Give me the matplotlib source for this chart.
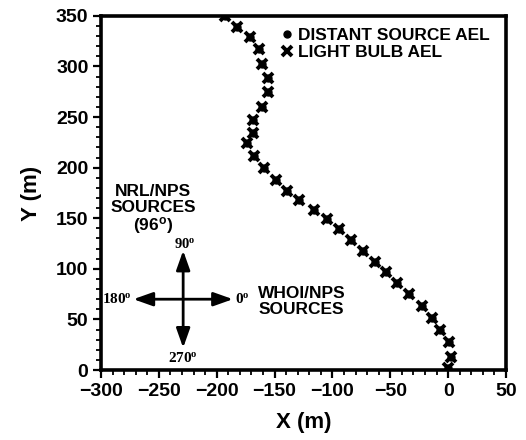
#!/usr/bin/env python3
"""AEL track positions in the horizontal plane, with source bearings."""

import matplotlib.pyplot as plt
from matplotlib.ticker import MultipleLocator

plt.rcParams.update({
    "font.family": ["Liberation Sans", "DejaVu Sans"],
    "font.weight": "bold",
    "mathtext.default": "regular",
})

# track positions (m)
track_x = [-192.8, -182.2, -171.2, -163.2, -160.6, -155.9, -155.4, -161.1,
           -168.4, -169.0, -174.1, -167.5, -158.9, -149.0, -139.5, -128.6,
           -116.2, -105.1, -94.3, -84.2, -73.8, -63.2, -53.7, -44.5, -33.8,
           -22.8, -13.7, -7.0, 1.0, 2.2, 0.2]
track_y = [350.0, 339.0, 329.0, 317.5, 302.7, 288.8, 275.0, 260.0, 247.0,
           234.0, 224.5, 211.7, 199.8, 188.0, 177.0, 168.0, 158.0, 149.0,
           139.5, 128.6, 117.7, 106.8, 97.0, 86.0, 75.0, 63.0, 51.4, 39.6,
           27.7, 12.9, 2.0]

distant_x = track_x
distant_y = track_y
bulb_x = track_x
bulb_y = track_y

series_labels = ["DISTANT SOURCE AEL", "LIGHT BULB AEL"]

fig = plt.figure(figsize=(5.26, 4.40), dpi=100)
ax = fig.add_axes([0.192, 0.159, 0.77, 0.805])

ax.plot(distant_x, distant_y, "o", color="black", markersize=5,
        linestyle="none", label=series_labels[0])
ax.plot(bulb_x, bulb_y, "x", color="black", markersize=7.5,
        markeredgewidth=2.8, linestyle="none", label=series_labels[1])

ax.set_xlim(-300, 50)
ax.set_ylim(0, 350)
ax.xaxis.set_major_locator(MultipleLocator(50))
ax.xaxis.set_minor_locator(MultipleLocator(10))
ax.yaxis.set_major_locator(MultipleLocator(50))
ax.yaxis.set_minor_locator(MultipleLocator(10))
ax.tick_params(which="major", direction="out", length=6, width=1.6,
               labelsize=14, pad=3)
ax.tick_params(which="minor", direction="out", length=3.5, width=1.3)
for lab in ax.get_xticklabels() + ax.get_yticklabels():
    lab.set_fontweight("bold")
for side in ax.spines.values():
    side.set_linewidth(2.6)

ax.set_xlabel("X (m)", fontsize=16, fontweight="bold", labelpad=9)
ax.set_ylabel("Y (m)", fontsize=16, fontweight="bold", labelpad=10)

leg = ax.legend(loc="upper right", bbox_to_anchor=(0.99, 1.0), frameon=False,
                fontsize=12.5, handlelength=0.6, handletextpad=0.35,
                labelspacing=0.1, borderaxespad=0.3)
for t in leg.get_texts():
    t.set_fontweight("bold")

# bearing compass
cx, cy = -229, 70
arrow_kw = dict(arrowstyle="-|>,head_length=0.9,head_width=0.32",
                color="black", lw=2.0, mutation_scale=13,
                shrinkA=0, shrinkB=0)
ax.annotate("", xy=(cx + 43, cy), xytext=(cx, cy), arrowprops=arrow_kw)
ax.annotate("", xy=(cx - 43, cy), xytext=(cx, cy), arrowprops=arrow_kw)
ax.annotate("", xy=(cx, cy + 48), xytext=(cx, cy), arrowprops=arrow_kw)
ax.annotate("", xy=(cx, cy - 48), xytext=(cx, cy), arrowprops=arrow_kw)

serif = ["Liberation Serif", "DejaVu Serif"]
ax.text(cx - 44, cy, r"180$^{o}$", family=serif, fontsize=11, fontweight="bold",
        ha="right", va="center")
ax.text(cx + 45, cy, r"0$^{o}$", family=serif, fontsize=11, fontweight="bold",
        ha="left", va="center")
ax.text(cx + 1, cy + 48, r"90$^{o}$", family=serif, fontsize=10.5,
        fontweight="bold", ha="center", va="bottom")
ax.text(cx, cy - 51, r"270$^{o}$", family=serif, fontsize=11, fontweight="bold",
        ha="center", va="top")

ax.text(-255, 158, "NRL/NPS\nSOURCES\n(96$^{o}$)", fontsize=12.5,
        fontweight="bold", ha="center", va="center", linespacing=1.05)
ax.text(-126.5, 68, "WHOI/NPS\nSOURCES", fontsize=12.5, fontweight="bold",
        ha="center", va="center", linespacing=1.05)

fig.savefig("out.png", dpi=100)
plt.close(fig)
